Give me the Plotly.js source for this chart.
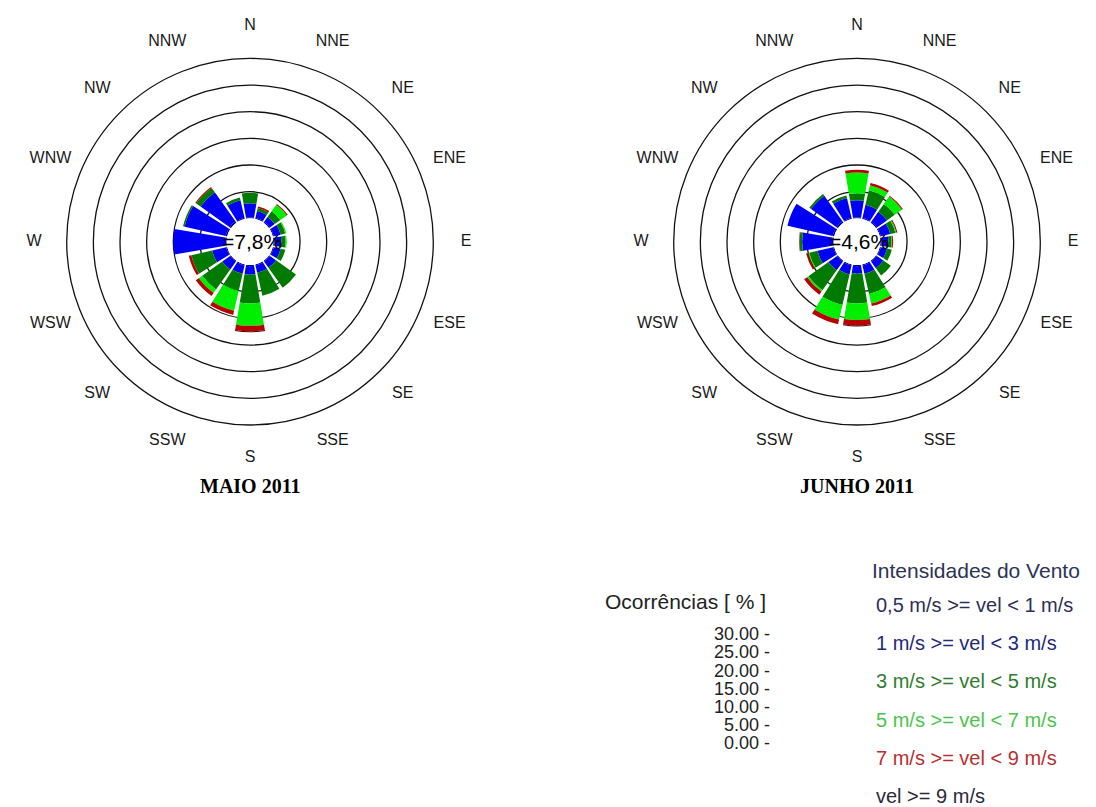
<!DOCTYPE html>
<html>
<head>
<meta charset="utf-8">
<script src="https://cdn.plot.ly/plotly-3.0.1.min.js"></script>
<style>html,body{margin:0;padding:0;background:#fff;}#chart{width:1096px;height:807px;}</style>
</head>
<body>
<div id="chart"></div>
<script>
// ---- data ----
const directions = ['N','NNE','NE','ENE','E','ESE','SE','SSE','S','SSW','SW','WSW','W','WNW','NW','NNW'];
const speedClasses = ['0,5 m/s >= vel < 1 m/s','1 m/s >= vel < 3 m/s','3 m/s >= vel < 5 m/s','5 m/s >= vel < 7 m/s','7 m/s >= vel < 9 m/s','vel >= 9 m/s'];
const monthTitles = ['MAIO 2011','JUNHO 2011'];
const calmValues = [7.8, 4.6];

// MAIO 2011 (% occurrences per direction, by class)
const maio_05_1 = [0.2,0.2,0.2,0.2,0.2,0.2,0.2,0.2,0.2,0.2,0.2,0.2,0.3,0.3,0.3,0.2];
const maio_1_3  = [2.6,1.3,1.1,1.3,1.3,1.3,1.4,1.4,1.6,1.6,1.8,2.7,9.7,7.9,6.7,3.4];
const maio_3_5  = [2.0,0.6,1.3,0.9,0.8,0.9,4.6,4.4,5.4,3.3,4.6,4.0,0.0,0.3,1.0,0.5];
const maio_5_7  = [0.0,0.0,1.5,0.2,0.2,0.0,0.0,0.0,4.2,3.8,0.8,0.0,0.0,0.0,0.0,0.0];
const maio_7_9  = [0.0,0.3,0.2,0.0,0.0,0.0,0.0,0.0,1.0,0.8,0.7,0.5,0.0,0.0,0.2,0.0];
const maio_9    = [0.0,0.0,0.0,0.0,0.0,0.0,0.0,0.0,0.2,0.0,0.0,0.0,0.0,0.0,0.0,0.0];

// JUNHO 2011
const junho_05_1 = [0.2,0.2,0.2,0.2,0.2,0.2,0.2,0.2,0.2,0.2,0.2,0.2,0.3,0.3,0.3,0.2];
const junho_1_3  = [3.2,2.5,2.3,1.8,1.3,1.2,1.5,1.6,1.4,1.7,2.0,3.0,5.6,8.7,5.9,3.8];
const junho_3_5  = [1.3,2.8,1.8,1.0,0.6,0.9,1.7,3.9,5.6,5.9,4.6,1.6,0.5,0.0,0.4,0.5];
const junho_5_7  = [3.9,1.0,1.7,0.2,0.1,0.0,0.0,1.8,3.1,2.8,0.3,0.2,0.0,0.0,0.0,0.0];
const junho_7_9  = [0.5,0.4,0.2,0.2,0.2,0.0,0.0,0.5,1.0,0.9,0.7,0.4,0.1,0.0,0.0,0.0];
const junho_9    = [0.0,0.0,0.0,0.0,0.0,0.0,0.0,0.0,0.2,0.0,0.0,0.0,0.0,0.0,0.0,0.0];

const ringValues = [5,10,15,20,25,30];
const occTicks = [0,5,10,15,20,25,30];
const occTickLabels = ['0.00 -','5.00 -','10.00 -','15.00 -','20.00 -','25.00 -','30.00 -'];
const occTitle = 'Ocorrências [ % ]';
const legendTitle = 'Intensidades do Vento';

// ---- styles ----
const barColors = ['#000080','#0000f5','#007a00','#00ee00','#b80000','#500000'];
const textColors = ['#2c3058','#222a7a','#2e7d2e','#4cc44c','#b83030','#2a2a3a'];
const W = 1096, H = 807;
const sans = 'Liberation Sans, Arial, sans-serif';
const RING_PX = 183.3;        // outer ring radius in px
const HOLE_PX = 23.4;         // calm disc radius in px
const RING_MAX = 30;          // outer ring value
const AX_MAX = 38;            // radial axis extent (room for compass labels)
const PX_PER = (RING_PX - HOLE_PX) / RING_MAX;
const RP = HOLE_PX + PX_PER * AX_MAX;   // polar radius in px
const LABEL_PX = 216;         // radius of compass labels in px
const labelR = (LABEL_PX - HOLE_PX) / PX_PER;

const thetaVals = directions.map((d, i) => i * 360 / directions.length);
const maioSeries = [maio_05_1, maio_1_3, maio_3_5, maio_5_7, maio_7_9, maio_9];
const junhoSeries = [junho_05_1, junho_1_3, junho_3_5, junho_5_7, junho_7_9, junho_9];

const traces = [];
[[maioSeries,'polar'],[junhoSeries,'polar2']].forEach(([series, sp]) => {
  series.forEach((vals, k) => {
    traces.push({
      type: 'barpolar', subplot: sp, name: speedClasses[k],
      r: vals, theta: thetaVals,
      marker: {color: barColors[k], line: {width: 0}},
      hoverinfo: 'skip', showlegend: false
    });
  });
  // compass labels
  traces.push({type:'scatterpolar', subplot: sp, mode:'text', cliponaxis:false,
    r: directions.map(() => labelR), theta: thetaVals, text: directions,
    textposition:'middle center', textfont:{family: sans, size: 16, color:'#1a1a1a'},
    hoverinfo:'skip', showlegend:false});
});
// helper trace so the occurrence scale axis is drawn
traces.push({type:'scatter', x:[0,0], y:[occTicks[0], occTicks[occTicks.length-1]], mode:'markers',
  marker:{opacity:0}, hoverinfo:'skip', showlegend:false, xaxis:'x', yaxis:'y'});

function polarLayout(cx, cy) {
  return {
    domain: {x: [(cx - RP) / W, (cx + RP) / W], y: [1 - (cy + RP) / H, 1 - (cy - RP) / H]},
    hole: HOLE_PX / RP,
    bgcolor: 'rgba(0,0,0,0)',
    bargap: 0.15,
    barmode: 'stack',
    radialaxis: {range: [0, AX_MAX], tickvals: ringValues, showticklabels: false, ticks: '',
      showline: false, gridcolor: '#111', gridwidth: 1.3},
    angularaxis: {type: 'linear', thetaunit: 'degrees', rotation: 90, direction: 'clockwise',
      tickmode: 'array', tickvals: thetaVals, showticklabels: false,
      showgrid: false, showline: false, ticks: ''}
  };
}

const centers = [[250, 241.7], [857, 241.7]];

const annotations = [];
centers.forEach((c, i) => {
  annotations.push({xref:'paper', yref:'paper', x: (c[0] + 2) / W, y: 1 - c[1] / H,
    text: '=' + calmValues[i].toFixed(1).replace('.', ',') + '%', showarrow:false,
    font:{family: sans, size: 21, color:'#000'}, xanchor:'center', yanchor:'middle'});
  annotations.push({xref:'paper', yref:'paper', x: c[0] / W, y: 1 - 486 / H,
    text: '<b>' + monthTitles[i] + '</b>', showarrow:false,
    font:{family:'Liberation Serif, Times New Roman, serif', size: 20, color:'#000'},
    xanchor:'center', yanchor:'middle'});
});
annotations.push({xref:'paper', yref:'paper', x: 768 / W, y: 1 - 601 / H, text: occTitle,
  showarrow:false, xanchor:'right', yanchor:'middle', font:{family: sans, size: 21, color:'#222'}});
annotations.push({xref:'paper', yref:'paper', x: 870 / W, y: 1 - 570 / H, text: legendTitle,
  showarrow:false, xanchor:'left', yanchor:'middle', font:{family: sans, size: 21, color:'#2a3456'}});
speedClasses.forEach((t, k) => {
  annotations.push({xref:'paper', yref:'paper', x: 874 / W, y: 1 - (605 + k * 38.2) / H, text: t,
    showarrow:false, xanchor:'left', yanchor:'middle', font:{family: sans, size: 20, color: textColors[k]}});
});

const layout = {
  width: W, height: H, margin: {l:0, r:0, t:0, b:0},
  paper_bgcolor: '#fff', plot_bgcolor: 'rgba(0,0,0,0)', showlegend: false,
  font: {family: sans},
  polar: polarLayout(centers[0][0], centers[0][1]),
  polar2: polarLayout(centers[1][0], centers[1][1]),
  xaxis: {domain: [771 / W, 775 / W], visible: false, range: [-1, 1], fixedrange: true},
  yaxis: {domain: [1 - 743 / H, 1 - 634 / H], range: [occTicks[0], occTicks[occTicks.length-1]],
    tickmode: 'array', tickvals: occTicks, ticktext: occTickLabels,
    showgrid: false, zeroline: false, showline: false, ticks: '', anchor: 'x',
    tickfont: {family: sans, size: 18, color: '#222'}, fixedrange: true},
  annotations: annotations
};

Plotly.newPlot('chart', traces, layout, {staticPlot: true, displayModeBar: false});
</script>
</body>
</html>
